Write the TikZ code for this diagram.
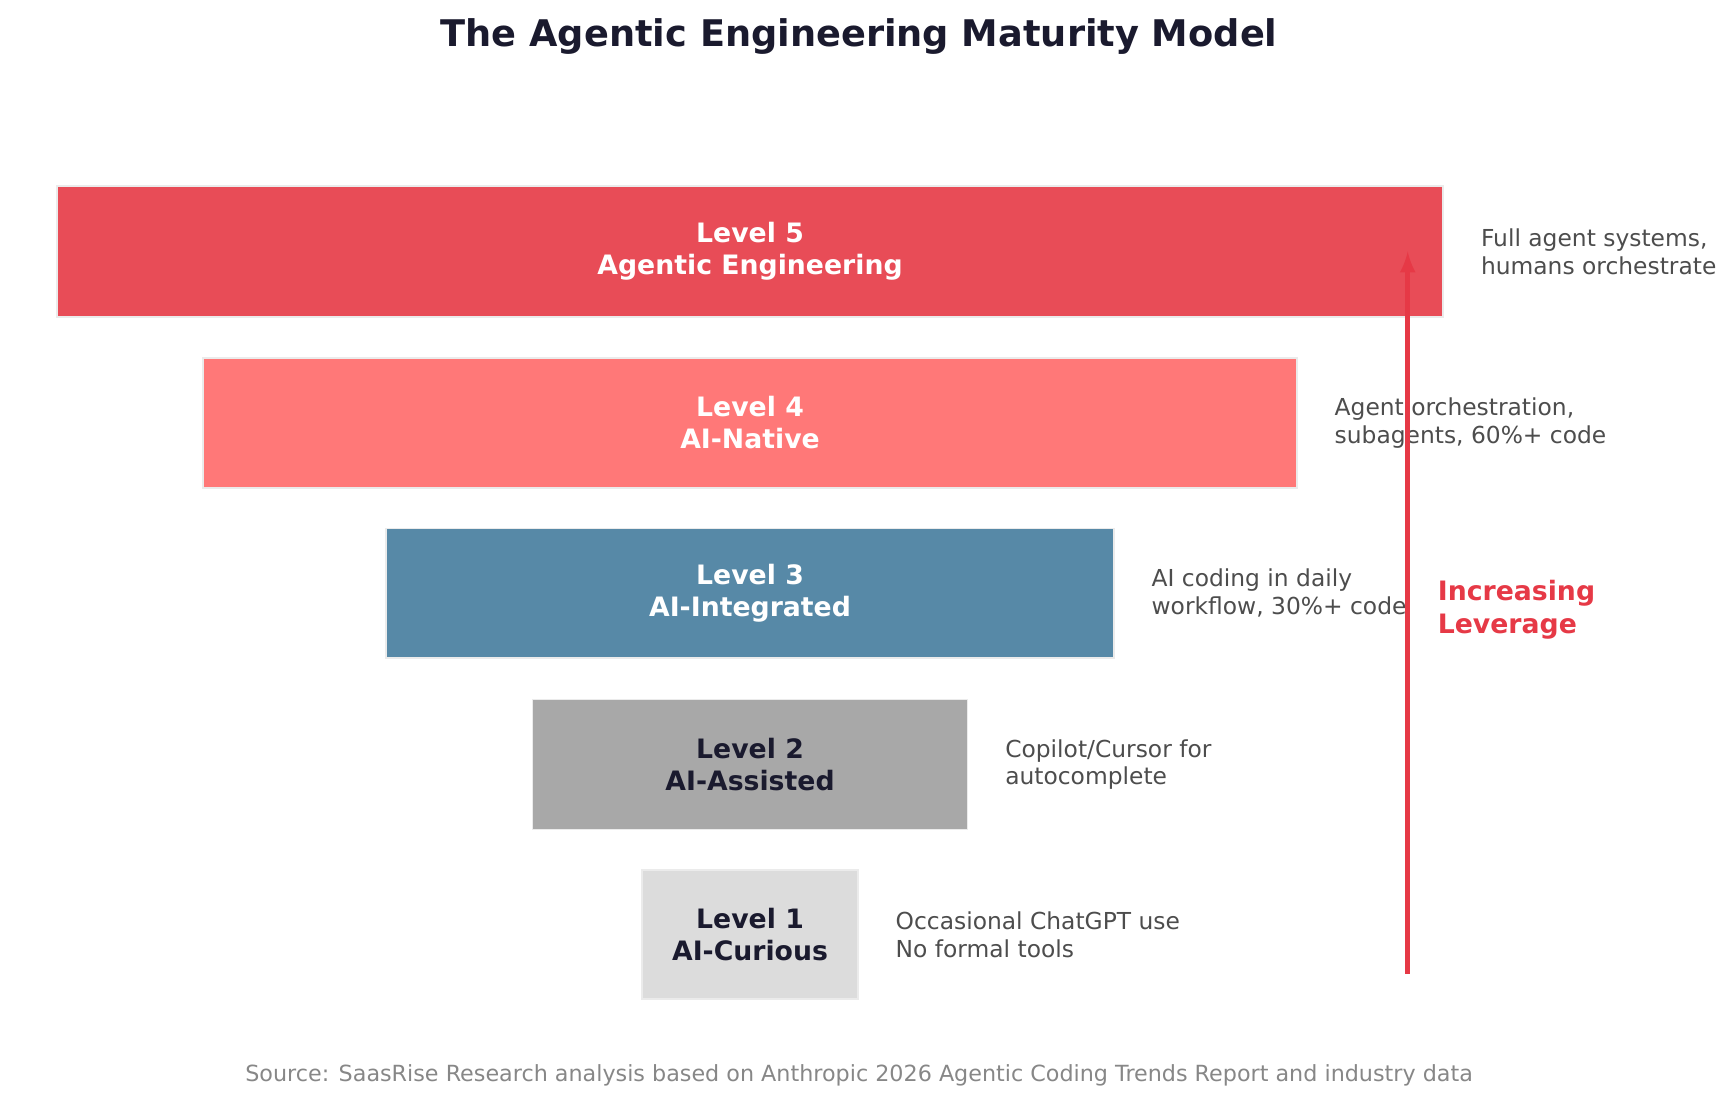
\documentclass[tikz,border=0pt]{standalone}
\usepackage{fontspec}
\setmainfont{DejaVu Sans}
\usetikzlibrary{positioning}
\definecolor{lvfive}{HTML}{E84C57}
\definecolor{lvfour}{HTML}{FF7878}
\definecolor{lvthree}{HTML}{5789A7}
\definecolor{lvtwo}{HTML}{A8A8A8}
\definecolor{lvone}{HTML}{DCDCDC}
\definecolor{inkdark}{HTML}{1A1A2E}
\definecolor{inkdesc}{HTML}{4D4D4D}
\definecolor{arrowred}{HTML}{E63946}
\begin{document}
\begin{tikzpicture}[x=0.5pt, y=-0.5pt,
        bar/.style={draw=white!92!black, line width=0.8pt, inner sep=0pt,
                    align=center, font=\bfseries\fontsize{12}{14.5}\selectfont},
        desc/.style={anchor=west, align=left, text=inkdesc,
                     font=\fontsize{10.5}{12.5}\selectfont}]
    \useasboundingbox (0,0) rectangle (1560,988);
    \node[text=inkdark, font=\bfseries\fontsize{16.5}{20}\selectfont] (title) at (772,33) {The Agentic Engineering Maturity Model};

    % levels, widest on top
    \node[bar, fill=lvfive, text=white, minimum width=623pt, minimum height=59pt] (levelfive) at (674,226) {Level 5\\Agentic Engineering};
    \node[bar, fill=lvfour, text=white, minimum width=491.5pt, minimum height=58.5pt] (levelfour) at (674,380) {Level 4\\AI-Native};
    \node[bar, fill=lvthree, text=white, minimum width=327pt, minimum height=58pt] (levelthree) at (674,533) {Level 3\\AI-Integrated};
    \node[bar, fill=lvtwo, text=inkdark, minimum width=195.5pt, minimum height=58.5pt] (leveltwo) at (674,687) {Level 2\\AI-Assisted};
    \node[bar, fill=lvone, text=inkdark, minimum width=97pt, minimum height=58pt] (levelone) at (674,840) {Level 1\\AI-Curious};

    % descriptions
    \node[desc, right=13pt of levelfive] (descfive) {Full agent systems,\\humans orchestrate};
    \node[desc, right=13pt of levelfour] (descfour) {Agent orchestration,\\subagents, 60\%+ code};
    \node[desc, right=13pt of levelthree] (descthree) {AI coding in daily\\workflow, 30\%+ code};
    \node[desc, right=13pt of leveltwo] (desctwo) {Copilot/Cursor for\\autocomplete};
    \node[desc, right=13pt of levelone] (descone) {Occasional ChatGPT use\\No formal tools};

    \coordinate (arrowlow) at (1265,875);
    \coordinate (arrowhigh) at (1265,226);
    \draw[arrowred, line width=2.2pt, -latex] (arrowlow) -- (arrowhigh);
    \node[anchor=west, align=left, text=arrowred, font=\bfseries\fontsize{12}{14.5}\selectfont] (leverage) at (1285,548) {Increasing\\Leverage};

    \node[text=black!47, font=\fontsize{10}{12}\selectfont] (source) at (772,966) {Source: SaasRise Research analysis based on Anthropic 2026 Agentic Coding Trends Report and industry data};
\end{tikzpicture}
\end{document}
